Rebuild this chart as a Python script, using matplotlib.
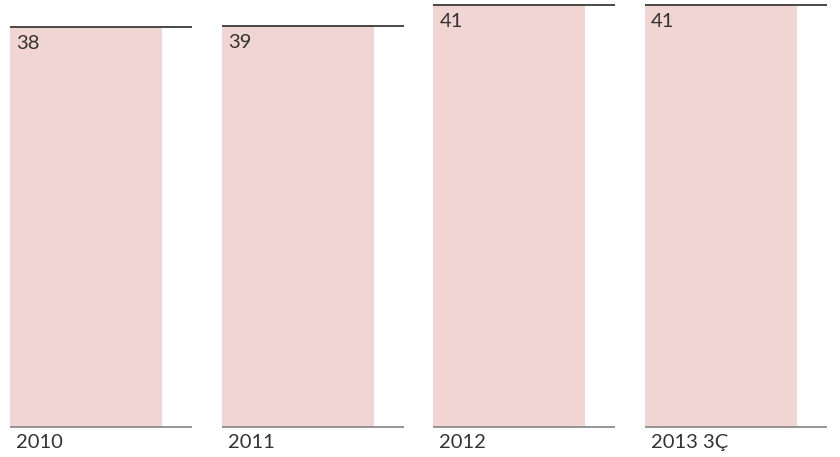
import matplotlib
matplotlib.use("Agg")
import matplotlib.pyplot as plt

categories = ["2010", "2011", "2012", "2013 3Ç"]
values = [38.9, 39.0, 41.0, 41.0]
value_labels = ["38", "39", "41", "41"]

W, H = 840, 457
fig = plt.figure(figsize=(W / 100, H / 100), dpi=100)
ax = fig.add_axes([0, 0, 1, 1])
ax.set_axis_off()

step_px = 211.67
px = lambda p: p / step_px
bar_w = px(152)
line_w = px(182)
ax.set_xlim(-px(10), px(W - 10))
ppy = 41.0 / 422.0
ax.set_ylim(-30 * ppy, 41.0 + 5 * ppy)

xs = list(range(len(categories)))
ax.bar(xs, values, width=bar_w, align="edge", color="#f0d5d2", linewidth=0, zorder=1)
for i, v in enumerate(values):
    ax.hlines(v, i, i + line_w, color="#3a3a3a", linewidth=1.3, zorder=3)
    ax.hlines(0, i, i + line_w, color="#8c8c8c", linewidth=1.3, zorder=3)
    ax.text(i + px(6), v - 22 * ppy, value_labels[i], fontsize=14.5, family="Lato",
            color="#333333", ha="left", va="baseline", zorder=4)
    ax.text(i + px(6), -21 * ppy, categories[i], fontsize=14.5, family="Lato",
            color="#333333", ha="left", va="baseline", zorder=4)

fig.savefig("out.png", dpi=100)
